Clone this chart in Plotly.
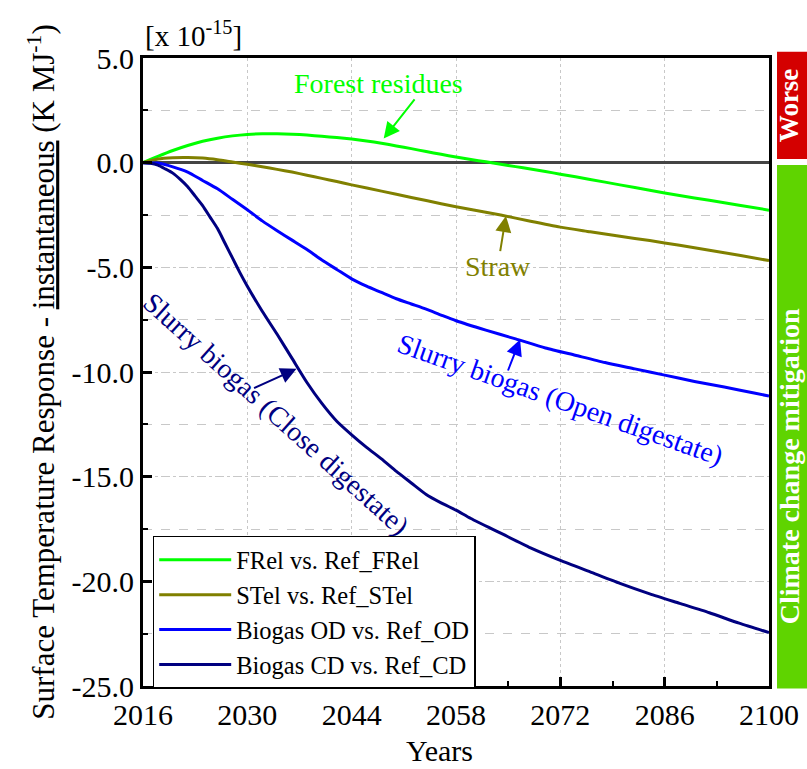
import plotly.graph_objects as go

# ---------------- data ----------------
years_fr = [2016, 2018, 2020, 2022, 2024, 2026, 2028, 2030, 2032, 2034, 2036, 2038, 2040, 2042,
            2044, 2046, 2048, 2050, 2052, 2054, 2056, 2058, 2060, 2062, 2064, 2066, 2068, 2070,
            2072, 2076, 2080, 2084, 2088, 2092, 2096, 2100]
frel = [0.0, 0.30, 0.58, 0.82, 1.02, 1.17, 1.28, 1.35, 1.38, 1.38, 1.36, 1.32, 1.26, 1.20,
        1.13, 1.04, 0.93, 0.80, 0.67, 0.53, 0.40, 0.27, 0.15, 0.04, -0.08, -0.19, -0.30, -0.42,
        -0.55, -0.80, -1.06, -1.32, -1.57, -1.80, -2.03, -2.27]

years_st = [2016, 2018, 2020, 2022, 2024, 2026, 2028, 2030, 2032, 2034, 2036, 2038, 2040, 2042,
            2044, 2048, 2052, 2056, 2060, 2064, 2068, 2072, 2076, 2080, 2084, 2088, 2092, 2096, 2100]
stel = [0.0, 0.18, 0.24, 0.25, 0.22, 0.14, 0.03, -0.08, -0.20, -0.32, -0.45, -0.60, -0.75, -0.90,
        -1.06, -1.36, -1.66, -1.96, -2.24, -2.50, -2.80, -3.08, -3.30, -3.52, -3.72, -3.95, -4.18,
        -4.42, -4.68]

years_od = [2016, 2018, 2020, 2022, 2024, 2026, 2028, 2030, 2032, 2034, 2036, 2038, 2040, 2042,
            2044, 2046, 2048, 2050, 2052, 2054, 2056, 2058, 2062, 2066, 2070, 2074, 2078, 2082,
            2086, 2090, 2094, 2098, 2100]
biogas_od = [0.0, -0.02, -0.20, -0.45, -0.85, -1.25, -1.75, -2.25, -2.78, -3.25, -3.70, -4.15,
             -4.65, -5.10, -5.55, -5.90, -6.20, -6.50, -6.75, -7.00, -7.28, -7.55, -8.00, -8.42,
             -8.85, -9.20, -9.55, -9.85, -10.15, -10.45, -10.72, -11.00, -11.15]

years_cd = [2016, 2017, 2018, 2019, 2020, 2021, 2022, 2023, 2024, 2025, 2026, 2027, 2028, 2029,
            2030, 2032, 2034, 2036, 2038, 2040, 2042, 2044, 2046, 2048, 2050, 2052, 2054, 2056,
            2058, 2060, 2064, 2068, 2072, 2076, 2080, 2084, 2088, 2092, 2096, 2100]
biogas_cd = [0.0, -0.03, -0.12, -0.30, -0.50, -0.80, -1.15, -1.60, -2.05, -2.60, -3.15, -3.85,
             -4.55, -5.25, -5.90, -7.10, -8.20, -9.35, -10.50, -11.50, -12.35, -13.00, -13.60,
             -14.15, -14.75, -15.30, -15.85, -16.25, -16.60, -17.00, -17.70, -18.40, -19.00,
             -19.55, -20.10, -20.60, -21.05, -21.50, -22.00, -22.45]

series_names = ["FRel vs. Ref_FRel", "STel vs. Ref_STel", "Biogas OD vs. Ref_OD", "Biogas CD vs. Ref_CD"]
series_colors = ["#00ff00", "#808000", "#0000ff", "#000080"]

x_tickvals = [2016, 2030, 2044, 2058, 2072, 2086, 2100]
x_ticktext = ["2016", "2030", "2044", "2058", "2072", "2086", "2100"]
y_tickvals = [5, 0, -5, -10, -15, -20, -25]
y_ticktext = ["5.0", "0.0", "-5.0", "-10.0", "-15.0", "-20.0", "-25.0"]

SERIF = "Liberation Serif, Times New Roman, serif"

fig = go.Figure()
for xs, ys, name, col in zip([years_fr, years_st, years_od, years_cd],
                             [frel, stel, biogas_od, biogas_cd],
                             series_names, series_colors):
    fig.add_trace(go.Scatter(x=xs, y=ys, mode="lines", name=name,
                             line=dict(color=col, width=3, shape="spline", smoothing=0.6)))

fig.update_layout(
    width=807, height=769,
    margin=dict(l=143, r=38, t=58, b=83, autoexpand=False),
    paper_bgcolor="white", plot_bgcolor="white",
    font=dict(family=SERIF, color="black", size=26),
    showlegend=True,
    legend=dict(x=0.0155, y=0.239, xanchor="left", yanchor="top",
                bgcolor="white", bordercolor="black", borderwidth=1.5,
                font=dict(size=24.5, family=SERIF), tracegroupgap=0, itemwidth=72),
)

fig.update_xaxes(
    range=[2016, 2100], tickmode="array", tickvals=x_tickvals, ticktext=x_ticktext,
    tickfont=dict(size=30, family=SERIF),
    ticks="inside", ticklen=9, tickwidth=3, tickcolor="black",
    showline=True, linecolor="black", linewidth=3, mirror=True,
    showgrid=True, gridcolor="#c8c8c8", gridwidth=1, griddash="dot",
    zeroline=False, automargin=False,
    minor=dict(dtick=7, tick0=2016, ticks="inside", ticklen=5, tickwidth=2, tickcolor="black",
               showgrid=False),
)
fig.update_yaxes(
    range=[-25, 5], tickmode="array", tickvals=y_tickvals, ticktext=y_ticktext,
    tickfont=dict(size=30, family=SERIF),
    ticks="inside", ticklen=9, tickwidth=3, tickcolor="black",
    showline=True, linecolor="black", linewidth=3, mirror=True,
    showgrid=True, gridcolor="#c8c8c8", gridwidth=1, griddash="dashdot",
    zeroline=True, zerolinecolor="#444444", zerolinewidth=3, automargin=False,
    minor=dict(dtick=2.5, tick0=0, ticks="inside", ticklen=5, tickwidth=2, tickcolor="black",
               showgrid=True, gridcolor="#c8c8c8", gridwidth=1, griddash="dash"),
    title=dict(text="Surface Temperature Response - <u>instantaneous</u> (K MJ<sup>-1</sup>)",
               font=dict(size=31, family=SERIF), standoff=8),
)

annotations = []
# header
annotations.append(dict(text="[x 10<sup>-15</sup>]", x=0.0, y=1.0, xref="paper", yref="paper",
                        xanchor="left", yanchor="bottom", yshift=4, showarrow=False,
                        font=dict(size=29, family=SERIF)))
# x title
annotations.append(dict(text="Years", x=0.474, y=-0.103, xref="paper", yref="paper",
                        xanchor="center", yanchor="middle", showarrow=False,
                        font=dict(size=30, family=SERIF)))
# curve labels
annotations.append(dict(text="Forest residues", x=2047.6, y=3.8, xref="x", yref="y",
                        showarrow=False, font=dict(size=28, family=SERIF, color="#00ff00")))
annotations.append(dict(text="Straw", x=2063.6, y=-4.95, xref="x", yref="y",
                        showarrow=False, font=dict(size=28, family=SERIF, color="#808000")))
annotations.append(dict(text="Slurry biogas (Open digestate)", x=2072.0, y=-11.3, xref="x", yref="y",
                        textangle=19.5, showarrow=False, font=dict(size=28, family=SERIF, color="#0000ff")))
annotations.append(dict(text="Slurry biogas (Close digestate)", x=2033.8, y=-12.0, xref="x", yref="y",
                        textangle=42, showarrow=False, font=dict(size=28, family=SERIF, color="#000080")))
# arrows
arrows = [
    ((2048.3, 1.15), (2052.6, 3.1), "#00ff00"),
    ((2064.7, -2.55), (2063.9, -4.3), "#808000"),
    ((2066.6, -8.45), (2064.9, -10.0), "#0000ff"),
    ((2036.6, -9.85), (2030.7, -10.8), "#000080"),
]
for (hx, hy), (tx, ty), col in arrows:
    annotations.append(dict(text="", x=hx, y=hy, ax=tx, ay=ty, xref="x", yref="y",
                            axref="x", ayref="y", showarrow=True, arrowhead=2, arrowsize=1.6,
                            arrowwidth=2, arrowcolor=col, standoff=0, startstandoff=0))
# side bars text
annotations.append(dict(text="<b>Worse</b>", x=1.032, y=0.925, xref="paper", yref="paper",
                        xanchor="center", yanchor="middle", borderpad=0,
                        textangle=-90, showarrow=False, font=dict(size=27, family=SERIF, color="white")))
annotations.append(dict(text="<b>Climate change mitigation</b>", x=1.032, y=0.35, xref="paper", yref="paper",
                        xanchor="center", yanchor="middle", borderpad=0,
                        textangle=-90, showarrow=False, font=dict(size=28, family=SERIF, color="white")))
fig.update_layout(annotations=annotations)

fig.update_layout(shapes=[
    dict(type="rect", xref="paper", yref="paper", x0=1.0128, x1=1.07, y0=0.839, y1=1.010,
         fillcolor="#d40000", line=dict(width=0), layer="below"),
    dict(type="rect", xref="paper", yref="paper", x0=1.0128, x1=1.07, y0=-0.004, y1=0.8298,
         fillcolor="#5fd400", line=dict(width=0), layer="below"),
])

fig.write_html("out.html", config={"displayModeBar": False},
               post_script="document.body.style.margin='0';document.body.style.overflow='hidden';")
